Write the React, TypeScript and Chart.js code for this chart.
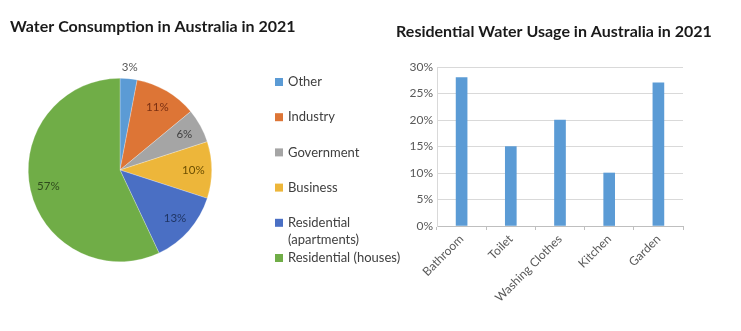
import React, { useEffect, useRef } from "react";
import { Chart, registerables } from "chart.js";

Chart.register(...registerables);

const FONT = "Lato, 'Open Sans', sans-serif";

const pieTitle = "Water Consumption in Australia in 2021";
const pieLabels = [
  "Other",
  "Industry",
  "Government",
  "Business",
  "Residential (apartments)",
  "Residential (houses)",
];
const pieValues = [3, 11, 6, 10, 13, 57];
const pieColors = ["#5B9BD5", "#DD7536", "#A5A5A5", "#EDB63A", "#4A6FC4", "#70AD47"];
const pieTextColors = ["#595959", "#7A2F12", "#3F3F3F", "#6B4E00", "#1F3564", "#2F4B1D"];

const barTitle = "Residential Water Usage in Australia in 2021";
const barLabels = ["Bathroom", "Toilet", "Washing Clothes", "Kitchen", "Garden"];
const barValues = [28, 15, 20, 10, 27];
const yTicks = [0, 5, 10, 15, 20, 25, 30];

function wrapText(ctx: CanvasRenderingContext2D, text: string, maxW: number): string[] {
  const words = text.split(" ");
  const lines: string[] = [];
  let cur = "";
  for (const w of words) {
    const t = cur ? cur + " " + w : w;
    if (ctx.measureText(t).width > maxW && cur) {
      lines.push(cur);
      cur = w;
    } else cur = t;
  }
  if (cur) lines.push(cur);
  return lines;
}

const pieDecor = {
  id: "pieDecor",
  afterDraw(chart: any) {
    const ctx: CanvasRenderingContext2D = chart.ctx;
    ctx.save();
    // title
    ctx.font = `bold 16px ${FONT}`;
    ctx.fillStyle = "#1a1a1a";
    ctx.textAlign = "left";
    ctx.textBaseline = "middle";
    ctx.fillText(pieTitle, 10, 27);

    // slice labels
    const meta = chart.getDatasetMeta(0);
    ctx.font = `11.5px ${FONT}`;
    ctx.textAlign = "center";
    meta.data.forEach((arc: any, i: number) => {
      const p = arc.getProps(["x", "y", "startAngle", "endAngle", "outerRadius"], true);
      const mid = (p.startAngle + p.endAngle) / 2;
      const v = pieValues[i];
      const r = v < 5 ? p.outerRadius + 11 : p.outerRadius * 0.8;
      const x = p.x + Math.cos(mid) * r;
      const y = p.y + Math.sin(mid) * r;
      ctx.fillStyle = pieTextColors[i];
      ctx.fillText(v + "%", x, y);
    });

    // legend
    ctx.font = `13px ${FONT}`;
    ctx.textAlign = "left";
    pieLabels.forEach((lab, i) => {
      const y0 = 82 + i * 35.2;
      ctx.fillStyle = pieColors[i];
      ctx.fillRect(275, y0 - 4, 8, 8);
      ctx.fillStyle = "#404040";
      const lines = wrapText(ctx, lab, 122);
      lines.forEach((ln, j) => ctx.fillText(ln, 288, y0 + j * 17));
    });
    ctx.restore();
  },
};

const barDecor = {
  id: "barDecor",
  afterDraw(chart: any) {
    const ctx: CanvasRenderingContext2D = chart.ctx;
    ctx.save();
    ctx.font = `bold 16px ${FONT}`;
    ctx.fillStyle = "#1a1a1a";
    ctx.textAlign = "center";
    ctx.textBaseline = "middle";
    ctx.fillText(barTitle, 174, 32);
    ctx.restore();
  },
};

export default function App() {
  const pieRef = useRef<HTMLCanvasElement>(null);
  const barRef = useRef<HTMLCanvasElement>(null);

  useEffect(() => {
    document.body.style.margin = "0";
    const pie = new Chart(pieRef.current!, {
      type: "pie",
      data: {
        labels: pieLabels,
        datasets: [
          {
            data: pieValues,
            backgroundColor: pieColors,
            borderColor: "rgba(255,255,255,0.5)",
            borderWidth: 0.5,
          },
        ],
      },
      options: {
        responsive: false,
        animation: false,
        layout: { padding: { left: 28, top: 78, right: 188, bottom: 69 } },
        plugins: { legend: { display: false }, tooltip: { enabled: false } },
      },
      plugins: [pieDecor],
    });

    const bar = new Chart(barRef.current!, {
      type: "bar",
      data: {
        labels: barLabels,
        datasets: [
          {
            data: barValues,
            backgroundColor: "#5B9BD5",
            barThickness: 11,
          },
        ],
      },
      options: {
        responsive: false,
        animation: false,
        layout: { padding: { left: 0, top: 67, right: 58, bottom: 0 } },
        plugins: { legend: { display: false }, tooltip: { enabled: false } },
        scales: {
          x: {
            afterFit: (s: any) => {
              s.height = 105;
            },
            grid: {
              display: true,
              drawOnChartArea: false,
              drawTicks: true,
              tickLength: 4,
              color: "#bfbfbf",
              offset: true,
            },
            border: { color: "#bfbfbf" },
            ticks: {
              maxRotation: 45,
              minRotation: 45,
              autoSkip: false,
              font: { family: FONT, size: 12 },
              color: "#595959",
              padding: 2,
            },
          },
          y: {
            min: 0,
            max: 30,
            afterFit: (s: any) => {
              s.width = 57;
            },
            afterBuildTicks: (s: any) => {
              s.ticks = yTicks.map((v) => ({ value: v }));
            },
            grid: { color: "#d9d9d9", drawTicks: false },
            border: { color: "#d9d9d9" },
            ticks: {
              callback: (v: any) => v + "%",
              font: { family: FONT, size: 12 },
              color: "#595959",
              padding: 4,
            },
          },
        },
      },
      plugins: [barDecor],
    });

    return () => {
      pie.destroy();
      bar.destroy();
    };
  }, []);

  return (
    <div style={{ position: "fixed", left: 0, top: 0, width: 741, height: 331, background: "#fff" }}>
      <canvas ref={pieRef} width={400} height={331} style={{ position: "absolute", left: 0, top: 0 }} />
      <canvas ref={barRef} width={361} height={331} style={{ position: "absolute", left: 380, top: 0 }} />
    </div>
  );
}
